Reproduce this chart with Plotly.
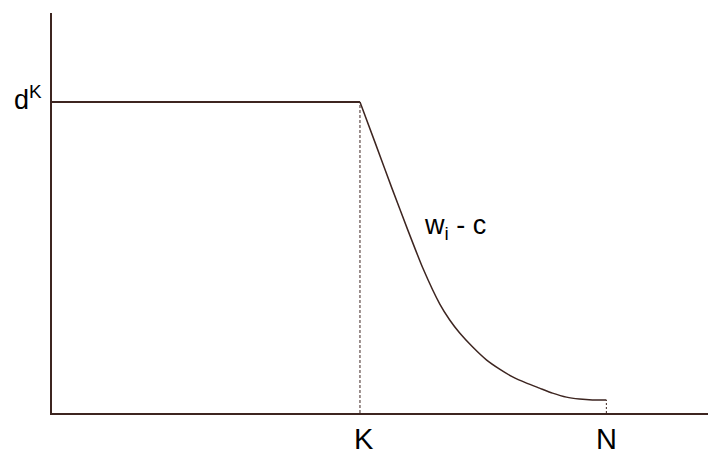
import plotly.graph_objects as go

# Data (x in units where K=5, N=9; y in units where d^K = 1)
K = 5.0
N = 9.0
dK = 1.0
curve_x = [5.0, 5.259, 5.518, 5.777, 6.020, 6.296, 6.457, 6.619, 6.830, 7.057,
           7.267, 7.478, 7.704, 7.915, 8.126, 8.352, 8.563, 8.773, 9.0]
curve_y = [1.0, 0.862, 0.723, 0.588, 0.466, 0.350, 0.299, 0.257, 0.212, 0.170,
           0.141, 0.116, 0.096, 0.080, 0.064, 0.051, 0.045, 0.042, 0.042]
x_tick_vals = [K, N]
x_tick_text = ["K", "N"]
y_tick_vals = [dK]
y_tick_text = ["d<sup>K</sup>"]

line_col = "#3d2520"
FONT = "Liberation Sans, Arial"

fig = go.Figure()
# flat segment d^K from 0 to K
fig.add_trace(go.Scatter(x=[0, K], y=[dK, dK], mode="lines",
                         line=dict(color=line_col, width=2), hoverinfo="skip"))
# dashed vertical at K
fig.add_trace(go.Scatter(x=[K, K], y=[0, dK], mode="lines",
                         line=dict(color=line_col, width=1, dash="3px,2px"), hoverinfo="skip"))
# decaying curve w_i - c
fig.add_trace(go.Scatter(x=curve_x, y=curve_y, mode="lines",
                         line=dict(color=line_col, width=1.5, shape="spline", smoothing=0.5),
                         hoverinfo="skip"))
# short dashed vertical at N
fig.add_trace(go.Scatter(x=[N, N], y=[0, curve_y[-1]], mode="lines",
                         line=dict(color=line_col, width=1, dash="2px,2px"), hoverinfo="skip"))

fig.add_annotation(x=5.97, y=0.58, text="w<sub>i</sub> - c", showarrow=False,
                   xanchor="left", yanchor="middle", xshift=2, yshift=6,
                   font=dict(size=27, color="black", family=FONT))

# axis labels as annotations placed from the tick arrays
for v, t in zip(x_tick_vals, x_tick_text):
    fig.add_annotation(x=v, y=0, xref="x", yref="paper", text=t, showarrow=False,
                       xanchor="center", yanchor="top", yshift=-8, xshift=(4 if t == "K" else 0),
                       font=dict(size=29, color="black", family=FONT))
for v, t in zip(y_tick_vals, y_tick_text):
    fig.add_annotation(x=0, y=v, xref="paper", yref="y", text=t, showarrow=False,
                       xanchor="right", yanchor="middle", xshift=-8, yshift=4,
                       font=dict(size=27, color="black", family=FONT))

fig.update_layout(
    width=708, height=456,
    margin=dict(l=52, r=0, t=13, b=43),
    paper_bgcolor="white", plot_bgcolor="white",
    showlegend=False,
    font=dict(family=FONT, size=28, color="black"),
    xaxis=dict(range=[0, 10.65], showgrid=False, zeroline=False,
               showline=True, linecolor=line_col, linewidth=2,
               showticklabels=False, ticks="", automargin=False),
    yaxis=dict(range=[0, 1.286], showgrid=False, zeroline=False,
               showline=True, linecolor=line_col, linewidth=2,
               showticklabels=False, ticks="", automargin=False),
)

fig.write_html("out.html", config={"displayModeBar": False},
               post_script="document.body.style.margin='0';document.body.style.overflow='hidden';")
